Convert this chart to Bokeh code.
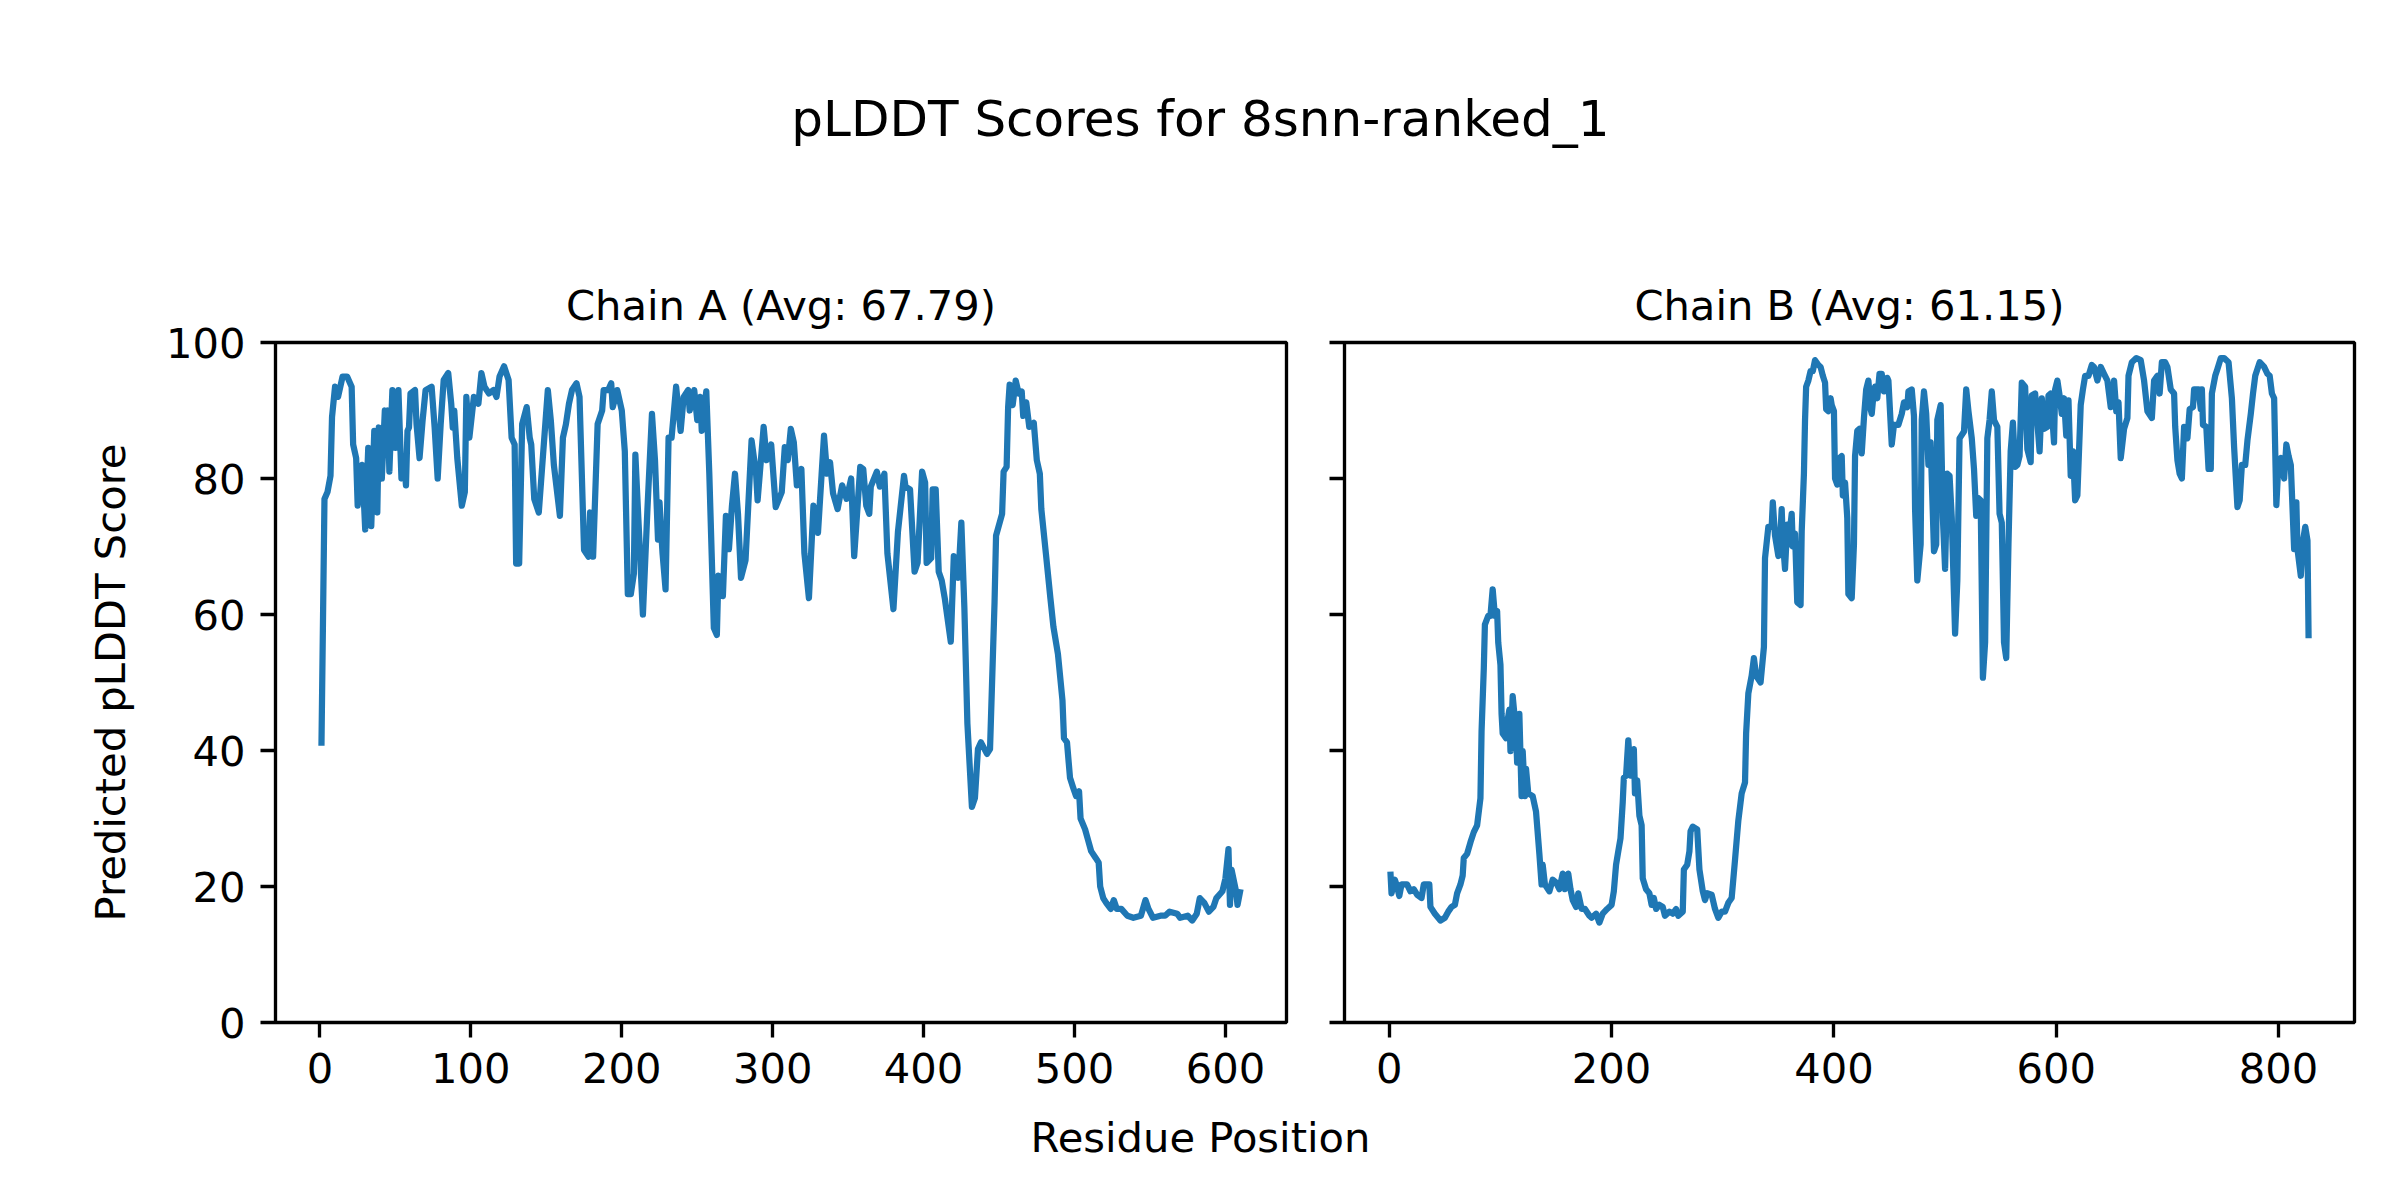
from bokeh.plotting import figure
from bokeh.models import Range1d, FixedTicker, Label
from bokeh.layouts import column, row
from bokeh.embed import file_html
from bokeh.resources import INLINE

TITLE = "pLDDT Scores for 8snn-ranked_1"
TITLE_A = "Chain A (Avg: 67.79)"
TITLE_B = "Chain B (Avg: 61.15)"
XLABEL = "Residue Position"
YLABEL = "Predicted pLDDT Score"

y_ticks = [0, 20, 40, 60, 80, 100]
x_ticks_a = [0, 100, 200, 300, 400, 500, 600]
x_ticks_b = [0, 200, 400, 600, 800]

chain_a_res = [1, 3, 5, 7, 8, 10, 12, 15, 18, 21, 22, 24, 25, 28, 30, 32, 34, 36, 38, 39, 41, 43, 44, 45, 46, 48, 50, 52, 54, 56, 57, 58, 59, 60, 63, 64, 66, 68, 70, 74, 76, 78, 80, 82, 85, 87, 88, 89, 91, 94, 96, 97, 99, 102, 105, 107, 109, 112, 115, 117, 119, 122, 125, 127, 129, 130, 132, 134, 137, 139, 140, 142, 145, 151, 153, 155, 159, 161, 163, 165, 167, 170, 172, 175, 178, 179, 181, 184, 187, 188, 191, 193, 194, 197, 200, 202, 204, 206, 208, 209, 211, 214, 217, 220, 222, 224, 225, 227, 229, 231, 233, 236, 239, 241, 244, 245, 248, 250, 252, 253, 256, 258, 261, 263, 264, 267, 269, 271, 273, 275, 277, 279, 282, 286, 289, 290, 294, 296, 299, 302, 306, 308, 310, 312, 314, 316, 319, 321, 324, 327, 330, 334, 336, 338, 340, 343, 346, 349, 352, 354, 358, 360, 362, 364, 365, 369, 371, 374, 376, 380, 383, 387, 388, 391, 394, 396, 399, 401, 402, 405, 406, 408, 410, 412, 414, 418, 420, 423, 425, 427, 429, 432, 434, 436, 438, 442, 444, 447, 448, 452, 453, 455, 456, 457, 459, 461, 463, 465, 466, 468, 470, 473, 475, 477, 478, 481, 484, 486, 489, 492, 493, 495, 497, 499, 501, 503, 504, 507, 509, 511, 514, 516, 517, 519, 521, 524, 526, 528, 531, 535, 539, 544, 547, 549, 552, 557, 560, 563, 568, 570, 575, 578, 581, 583, 586, 589, 592, 594, 598, 600, 602, 603, 604, 607, 608, 610]
chain_a_plddt = [40.7, 77, 78, 80.4, 89, 93.5, 92, 95, 95, 93.5, 85, 83, 76, 82, 72.5, 84.5, 73, 87, 75, 87.5, 80, 90, 84, 90, 81, 93, 84.5, 93, 80, 82, 79, 87, 87.5, 92.5, 93, 88, 83, 88.5, 93, 93.5, 87.5, 80, 88, 94.5, 95.5, 91, 87.5, 90, 83, 76, 78, 92, 86, 92, 91, 95.5, 93.5, 92.5, 93, 92, 95, 96.5, 94.5, 86, 85, 67.5, 67.5, 88, 90.5, 86, 85, 77, 75, 93, 88.5, 82, 74.5, 86, 88, 91, 93, 94, 92, 69.5, 68.5, 75, 68.5, 88, 90, 93, 93, 94, 90.5, 93, 90, 84, 63, 63, 66, 83.5, 74, 60, 75.5, 89.5, 82.7, 71, 76.5, 69, 63.7, 86, 86, 93.5, 87, 92, 93, 90, 93, 88.6, 92, 87, 92.8, 80.7, 58, 57, 65.7, 62.7, 74.5, 69.6, 76, 80.7, 74.8, 65.4, 68, 85.6, 80.7, 76.8, 87.6, 82.7, 85, 75.8, 78, 84.6, 82.7, 87.3, 85.3, 79, 81.4, 69, 62.4, 76, 72, 86.3, 80.7, 82.4, 77.8, 75.5, 79, 77, 80, 68.6, 81.7, 81.4, 76, 74.8, 78.8, 81, 78.8, 80.7, 69, 60.8, 72.2, 80.4, 78.8, 78.4, 66.3, 67.6, 81, 79.4, 67.6, 68.3, 78.4, 78.4, 66.3, 65, 62.4, 56, 68.6, 65.4, 73.5, 61, 44, 31.7, 33, 40.2, 41.2, 39.5, 40.2, 61.8, 71.6, 74.8, 81, 81.7, 90.5, 93.8, 90.8, 94.4, 92.5, 92.8, 89.2, 91.2, 87.6, 88.2, 82.7, 80.7, 75.5, 69, 62.4, 58.2, 54.2, 47.4, 41.8, 41.2, 36, 34.6, 33.3, 34, 30, 28.4, 26.8, 25.2, 24.2, 23.5, 20, 18.3, 17.6, 16.7, 18, 16.7, 16.7, 15.7, 15.4, 15.7, 18, 16.7, 15.4, 15.7, 15.7, 16.3, 16, 15.4, 15.7, 15, 16, 18.3, 17.6, 16.3, 17, 18.3, 19.3, 21.2, 25.5, 17.3, 22.5, 19.3, 17.3, 19.6]

chain_b_res = [1, 2, 5, 7, 9, 11, 16, 19, 22, 25, 29, 31, 36, 37, 41, 46, 50, 53, 56, 59, 61, 64, 66, 67, 70, 73, 76, 79, 82, 83, 85, 86, 89, 91, 93, 95, 97, 98, 100, 101, 102, 105, 106, 108, 109, 111, 114, 115, 117, 119, 120, 122, 123, 125, 129, 132, 135, 137, 138, 140, 144, 147, 150, 153, 156, 158, 161, 163, 165, 168, 170, 173, 176, 180, 182, 186, 189, 192, 196, 200, 202, 204, 206, 208, 210, 211, 213, 215, 217, 218, 220, 221, 223, 225, 227, 228, 231, 234, 236, 238, 240, 243, 246, 248, 252, 255, 258, 260, 264, 265, 268, 270, 271, 273, 277, 279, 282, 284, 286, 290, 293, 296, 299, 302, 305, 308, 311, 314, 317, 320, 321, 323, 326, 328, 330, 334, 337, 338, 341, 344, 345, 347, 350, 351, 353, 354, 356, 358, 359, 362, 363, 365, 367, 370, 371, 373, 374, 375, 377, 379, 381, 383, 386, 388, 390, 392, 393, 395, 397, 398, 400, 401, 403, 405, 407, 408, 410, 412, 413, 416, 418, 419, 421, 423, 425, 427, 429, 431, 433, 434, 436, 437, 439, 441, 443, 445, 448, 449, 452, 454, 458, 461, 463, 466, 467, 470, 472, 473, 475, 478, 479, 481, 483, 485, 487, 490, 492, 493, 496, 498, 500, 502, 504, 506, 509, 511, 513, 517, 519, 521, 524, 526, 528, 530, 532, 534, 536, 538, 540, 542, 544, 547, 549, 551, 553, 555, 557, 559, 561, 563, 565, 567, 569, 572, 574, 577, 578, 581, 585, 587, 589, 592, 593, 595, 598, 599, 601, 603, 605, 607, 609, 611, 613, 615, 617, 619, 622, 624, 626, 629, 632, 634, 637, 640, 643, 646, 649, 652, 654, 656, 658, 661, 664, 665, 668, 672, 676, 679, 682, 686, 688, 691, 693, 695, 698, 700, 703, 706, 707, 709, 711, 713, 715, 718, 720, 723, 724, 728, 730, 731, 732, 735, 737, 739, 740, 743, 745, 748, 751, 755, 758, 760, 763, 765, 767, 770, 772, 775, 777, 779, 783, 787, 790, 792, 794, 796, 798, 800, 802, 805, 807, 809, 811, 814, 816, 817, 820, 822, 824, 826, 827]
chain_b_plddt = [22.2, 19, 21, 20, 18.6, 20.3, 20.3, 19.3, 19.6, 18.8, 18.3, 20.3, 20.3, 17, 16, 15, 15.4, 16.3, 17, 17.3, 19, 20.3, 21.6, 24.2, 24.8, 26.5, 28, 29, 33, 42.8, 52, 58.5, 59.8, 59.8, 63.7, 59.8, 60.5, 55.9, 52.6, 45.4, 42.5, 41.8, 44, 46, 39.9, 48, 42.8, 38.2, 45.4, 33.3, 39.9, 33.3, 37.3, 33.7, 33.3, 31, 24.8, 20.3, 23.2, 20.3, 19.3, 21, 20.6, 19.6, 21.9, 19.6, 21.9, 19.6, 18, 17, 19, 16.7, 16.7, 15.7, 15.4, 16, 14.7, 16, 16.7, 17.3, 19.3, 23.2, 25.2, 27.1, 32.4, 36, 36.3, 41.5, 36.3, 38.6, 40.2, 33.7, 35.6, 30.4, 29, 21.2, 19.6, 19, 17.3, 18.3, 16.7, 17.3, 17, 15.7, 16.3, 16, 16.7, 15.7, 16.3, 22.5, 23.2, 25.2, 28.1, 28.8, 28.4, 22.5, 19.3, 18, 19, 18.8, 16.7, 15.4, 16.3, 16.3, 17.6, 18.3, 23.9, 29.7, 33.7, 35.3, 42.5, 48.4, 51, 53.6, 51, 50, 55.2, 68.3, 72.9, 72.9, 76.5, 71.6, 68.6, 69, 75.5, 70.9, 66.7, 73.2, 70.3, 74.8, 70, 71.9, 61.8, 61.4, 72.2, 80.7, 88.6, 93.5, 94.4, 95.8, 95.8, 97.4, 96.7, 96.4, 95.1, 94.1, 90.2, 89.9, 91.8, 90.8, 89.9, 80, 79.1, 83, 83.3, 77.5, 79.4, 74.2, 63, 62.4, 70.3, 83.3, 87, 87.3, 83.7, 88.9, 93.1, 94.4, 90.2, 89.5, 93.1, 93.5, 91.8, 95.4, 95.4, 92.8, 94.8, 94.4, 85, 87.9, 87.9, 89.5, 91.2, 90.5, 92.8, 93.1, 89.2, 75.5, 65, 70.3, 88.6, 92.8, 89.5, 82, 85.3, 69.3, 70.3, 88.6, 90.8, 74.2, 66.7, 80.7, 80.4, 74.2, 57.2, 65, 85.9, 86.9, 93.1, 89.9, 85.9, 81.4, 74.5, 77.1, 76.8, 50.7, 55.9, 85.9, 88.6, 92.8, 88.6, 87.6, 74.8, 73.5, 55.9, 53.6, 70.3, 84, 88.2, 81.7, 82, 83.3, 94.1, 93.5, 84.3, 82.4, 92.2, 92.5, 84, 91.8, 87.3, 87.6, 92.2, 92.5, 85.3, 93.1, 94.4, 92.2, 89.5, 91.8, 86.3, 91.5, 80.4, 84, 76.8, 77.5, 90.8, 93.1, 95.1, 95.1, 96.7, 96.4, 94.4, 96.4, 95.4, 94.4, 90.5, 94.4, 89.9, 91.2, 83, 87.3, 88.9, 95.1, 97.1, 97.7, 97.4, 94.4, 89.9, 88.9, 94.4, 95.1, 92.5, 97.1, 97.1, 96.4, 93.1, 92.5, 87.6, 82.7, 80.7, 80, 87.6, 85.9, 90.2, 90.5, 93.1, 93.1, 90.2, 93.1, 87.9, 87.6, 81.4, 81.4, 92.5, 95.1, 96.1, 97.7, 97.7, 97.1, 91.8, 84.6, 75.8, 76.8, 82, 82, 85.6, 89.5, 92.5, 95.1, 97.1, 96.4, 95.4, 95.1, 92.5, 91.8, 76.1, 82.7, 83, 80, 85, 83.3, 82, 69.6, 76.5, 69.6, 65.7, 70.9, 72.9, 70.9, 56.5]

FONT = "DejaVu Sans"
BIG = "50px"
MED = "41.67px"
LINE_COLOR = "#1f77b4"
SPINE_W = 3.33


def pad_range(vals):
    lo, hi = min(vals), max(vals)
    m = 0.05 * (hi - lo)
    return Range1d(lo - m, hi + m)


def style_axes(p, xt, show_ylabels=True):
    p.xgrid.visible = False
    p.ygrid.visible = False
    p.outline_line_color = "black"
    p.outline_line_width = SPINE_W
    p.background_fill_color = "white"
    p.border_fill_color = "white"
    p.xaxis.ticker = FixedTicker(ticks=xt)
    p.yaxis.ticker = FixedTicker(ticks=y_ticks)
    for ax in (p.xaxis[0], p.yaxis[0]):
        ax.axis_line_color = None
        ax.major_tick_in = 0
        ax.major_tick_out = 15
        ax.major_tick_line_width = SPINE_W
        ax.major_tick_line_color = "black"
        ax.minor_tick_line_color = None
        ax.major_label_text_font = FONT
        ax.major_label_text_font_size = MED
        ax.major_label_text_color = "black"
        ax.major_label_standoff = 15
    if not show_ylabels:
        p.yaxis.major_label_overrides = {t: "" for t in y_ticks}
        p.yaxis.major_label_standoff = 0


def chain_fig(res, vals, xt, title, width, left, right, show_ylabels):
    p = figure(width=width, height=850, output_backend="svg", toolbar_location=None,
               x_range=pad_range(res), y_range=Range1d(0, 100),
               min_border_left=left, min_border_right=right,
               min_border_top=84, min_border_bottom=86)
    p.title.text = title
    p.title.align = "center"
    p.title.text_font = FONT
    p.title.text_font_size = MED
    p.title.text_font_style = "normal"
    p.title.text_color = "black"
    p.title.standoff = 26
    style_axes(p, xt, show_ylabels)
    p.line(res, vals, line_color=LINE_COLOR, line_width=6.25, line_join="round")
    return p


pa = chain_fig(chain_a_res, chain_a_plddt, x_ticks_a, TITLE_A, 1318, 275, 32, True)
pa.yaxis.axis_label = YLABEL
pa.yaxis.axis_label_text_font = FONT
pa.yaxis.axis_label_text_font_size = MED
pa.yaxis.axis_label_text_font_style = "normal"
pa.yaxis.axis_label_text_color = "black"
pa.yaxis.axis_label_standoff = 28

pb = chain_fig(chain_b_res, chain_b_plddt, x_ticks_b, TITLE_B, 1066, 26, 30, False)

TOTAL_W = 1318 + 1066


def text_fig(height, txt, size, ypos):
    f = figure(width=TOTAL_W, height=height, output_backend="svg", toolbar_location=None,
               x_range=Range1d(0, 1), y_range=Range1d(0, 1),
               x_axis_location=None, y_axis_location=None, min_border=0)
    f.xgrid.visible = False
    f.ygrid.visible = False
    f.outline_line_color = None
    f.background_fill_color = "white"
    f.border_fill_color = "white"
    f.add_layout(Label(x=1200 / TOTAL_W, y=ypos, text=txt, text_font=FONT,
                       text_font_size=size, text_color="black",
                       text_align="center", text_baseline="middle"))
    return f


top = text_fig(258, TITLE, BIG, 1 - 118 / 258)
bottom = text_fig(76, XLABEL, MED, 1 - 29 / 76)

layout = column(top, row(pa, pb), bottom)
open("out.html", "w").write(file_html(layout, INLINE))
